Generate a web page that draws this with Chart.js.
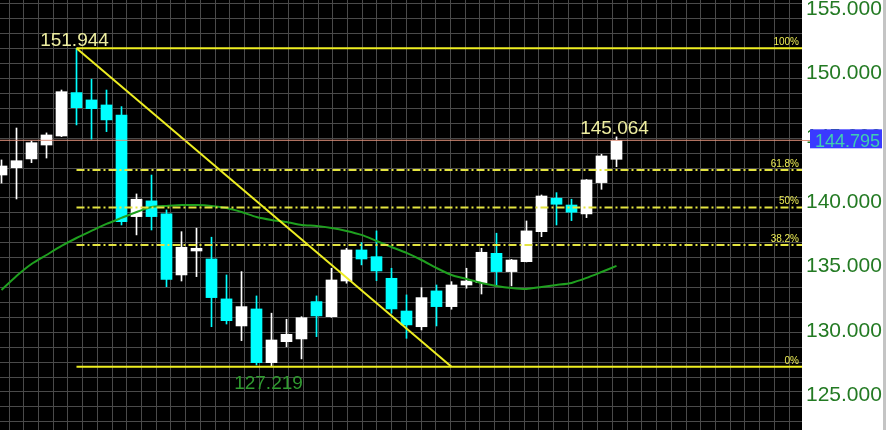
<!DOCTYPE html>
<html>
<head>
<meta charset="utf-8">
<script src="https://cdn.jsdelivr.net/npm/chart.js@4.4.0/dist/chart.umd.min.js"></script>
<style>
  html, body { margin: 0; padding: 0; background: #fff; }
  canvas { display: block; }
</style>
</head>
<body>
<canvas id="chart" width="891" height="430"></canvas>
<script>
// Velas (índice 0 = la más antigua visible)
const opens  = [142.10, 142.67, 143.35, 144.43, 145.13, 148.50, 147.93, 147.54, 146.76, 138.87,
                140.09, 139.08, 134.34, 136.20, 135.58, 132.48, 130.38, 131.70, 127.53, 129.16,
                129.37, 132.27, 131.10, 133.87, 136.28, 135.76, 134.08, 131.54, 130.32, 133.10,
                131.88, 133.56, 133.74, 136.02, 134.60, 135.37, 137.70, 140.30, 139.77, 139.08,
                141.51, 143.32];
const highs  = [143.27, 145.75, 144.74, 145.37, 148.70, 151.944, 149.54, 148.70, 147.41, 140.63,
                142.10, 139.39, 137.70, 137.97, 137.27, 134.34, 134.60, 132.71, 131.37, 130.90,
                131.10, 132.71, 134.86, 136.41, 136.85, 137.76, 134.86, 132.79, 133.35, 133.56,
                133.82, 134.86, 136.41, 137.58, 135.55, 138.53, 140.55, 140.73, 140.22, 141.75,
                143.71, 145.064];
const lows   = [141.48, 140.24, 143.06, 143.42, 145.08, 145.99, 144.88, 145.47, 138.22, 137.45,
                137.83, 133.43, 133.87, 134.21, 130.32, 130.53, 129.24, 127.35, 127.219, 128.77,
                127.82, 129.55, 131.05, 133.70, 135.12, 133.90, 131.37, 129.42, 130.07, 130.38,
                131.68, 133.31, 132.86, 133.43, 133.49, 135.35, 137.31, 138.22, 138.56, 138.79,
                140.99, 142.75];
const closes = [142.80, 143.21, 144.61, 145.21, 148.57, 147.33, 147.25, 146.38, 138.48, 140.22,
                138.87, 133.99, 136.49, 136.41, 132.58, 130.79, 131.88, 127.53, 129.29, 129.73,
                131.02, 131.16, 133.95, 136.28, 135.58, 134.65, 131.70, 130.46, 132.58, 131.88,
                133.56, 133.87, 136.10, 134.60, 135.50, 137.76, 140.47, 139.83, 139.21, 141.72,
                143.58, 144.795];

// Media móvil
const maValues = [133.17, 134.26, 135.19, 135.89, 136.59, 137.21, 137.76, 138.30, 138.77, 139.23,
                  139.62, 139.70, 139.77, 139.77, 139.70, 139.54, 139.23, 138.84, 138.61, 138.45,
                  138.22, 138.14, 137.99, 137.76, 137.45, 136.98, 136.51, 136.05, 135.50, 134.88,
                  134.34, 134.03, 133.72, 133.49, 133.33, 133.25, 133.41, 133.56, 133.72, 134.11,
                  134.57, 135.04];

// Fibonacci y línea de tendencia
const fibLevels = [151.944, 142.499, 139.582, 136.664, 127.219];
const fibLabels = ['100%', '61.8%', '50%', '38.2%', '0%'];
const fibDashed = [false, true, true, true, false];
const fibStart = 5;
const trendIdx = [5, 30];
const trendPrices = [151.944, 127.219];

const swingHighIdx = 5;
const swingLowIdx = 18;
const lastIdx = 41;
const lastPrice = 144.795;

const yTicks = [125, 130, 135, 140, 145, 150, 155];

const X_MIN = -0.1, X_MAX = 53.3667;

const idx = opens.map((_, i) => i);
const candleColor = idx.map(i => closes[i] >= opens[i] ? '#ffffff' : '#00ffff');

const datasets = [
  { type: 'line', order: 0, data: [{ x: X_MIN, y: lastPrice }, { x: X_MAX, y: lastPrice }],
    borderColor: '#e0907a', borderWidth: 1, pointRadius: 0 },
  { type: 'line', order: 1, data: trendIdx.map((v, k) => ({ x: v, y: trendPrices[k] })),
    borderColor: '#eeee22', borderWidth: 2, pointRadius: 0 }
];

fibLevels.forEach((lv, k) => {
  datasets.push({
    type: 'line', order: 2,
    data: [{ x: fibStart, y: lv }, { x: X_MAX, y: lv }],
    borderColor: fibDashed[k] ? '#e4e440' : '#eeee22',
    borderWidth: 2,
    borderDash: fibDashed[k] ? [8, 3, 2, 3] : [],
    pointRadius: 0
  });
});

datasets.push({
  type: 'line', order: 3,
  data: idx.map(i => ({ x: i, y: maValues[i] })),
  borderColor: '#1fa01f', borderWidth: 2, pointRadius: 0, tension: 0.2
});

// cuerpos
datasets.push({
  type: 'bar', order: 4, grouped: false, barThickness: 11,
  data: idx.map(i => ({ x: i, y: [opens[i], closes[i]] })),
  backgroundColor: candleColor, borderWidth: 0
});
// mechas
datasets.push({
  type: 'bar', order: 5, grouped: false, barThickness: 1,
  data: idx.map(i => ({ x: i, y: [lows[i], highs[i]] })),
  backgroundColor: candleColor, borderWidth: 0
});

const bgPlugin = {
  id: 'bg',
  beforeDraw(chart) {
    const { ctx, chartArea: a } = chart;
    ctx.save();
    ctx.fillStyle = '#fff';
    ctx.fillRect(0, 0, chart.width, chart.height);
    ctx.fillStyle = '#000';
    ctx.fillRect(a.left, a.top, a.right - a.left, a.bottom - a.top);
    ctx.fillStyle = '#c4c4c4';
    ctx.fillRect(883, 0, 3, chart.height);
    ctx.restore();
  }
};

const labelPlugin = {
  id: 'labels',
  afterDraw(chart) {
    const { ctx, chartArea: a, scales: { x, y } } = chart;
    ctx.save();

    // etiquetas fibo
    ctx.font = '10px "Liberation Sans Narrow", "Liberation Sans", sans-serif';
    ctx.fillStyle = '#eeee55';
    ctx.textAlign = 'right';
    ctx.textBaseline = 'alphabetic';
    fibLevels.forEach((lv, k) => {
      ctx.fillText(fibLabels[k], a.right - 3, y.getPixelForValue(lv) - 3);
    });

    // máximos y mínimos
    ctx.font = '19px "Liberation Sans", sans-serif';
    ctx.textAlign = 'center';
    ctx.fillStyle = '#eeeea0';
    ctx.fillText(highs[swingHighIdx].toFixed(3), x.getPixelForValue(swingHighIdx) - 2, y.getPixelForValue(highs[swingHighIdx]) - 2);
    ctx.fillText(highs[lastIdx].toFixed(3), x.getPixelForValue(lastIdx) - 2, y.getPixelForValue(highs[lastIdx]) - 3);
    ctx.fillStyle = '#2f9a2f';
    ctx.fillText(lows[swingLowIdx].toFixed(3), x.getPixelForValue(swingLowIdx) - 3, y.getPixelForValue(lows[swingLowIdx]) + 22);

    // precio actual
    const py = y.getPixelForValue(lastPrice);
    ctx.fillStyle = '#e0907a';
    ctx.fillRect(a.right, Math.round(py), 8, 1);
    ctx.fillStyle = '#3a3aff';
    ctx.fillRect(a.right + 8, py - 11, 72, 19);
    ctx.font = '18px "Liberation Sans", sans-serif';
    ctx.textAlign = 'left';
    ctx.fillStyle = '#3fd0b0';
    ctx.fillText(lastPrice.toFixed(3), a.right + 13, py + 6.5);
    ctx.restore();
  }
};

new Chart(document.getElementById('chart'), {
  type: 'bar',
  data: { datasets },
  options: {
    responsive: false,
    animation: false,
    events: [],
    layout: { padding: 0 },
    plugins: { legend: { display: false }, tooltip: { enabled: false } },
    scales: {
      x: {
        type: 'linear', display: false, min: X_MIN, max: X_MAX, offset: false
      },
      y: {
        type: 'linear', position: 'right', min: 122.30, max: 155.69, beginAtZero: false,
        grid: { display: false, drawTicks: false },
        border: { display: false },
        afterBuildTicks: s => { s.ticks = yTicks.map(v => ({ value: v })); },
        afterFit: s => { s.width = 89; s.paddingTop = 0; s.paddingBottom = 0; },
        ticks: {
          color: '#237a23',
          padding: 4,
          font: { family: '"Liberation Sans", Arial, sans-serif', size: 21 },
          callback: v => Number(v).toFixed(3)
        }
      },
      // rejilla
      gx: {
        type: 'linear', position: 'bottom', min: 0.4, max: 53.8667,
        grid: { color: '#4a4a4a', drawTicks: false },
        border: { display: false },
        ticks: { display: false, stepSize: 1, includeBounds: false },
        afterFit: s => { s.height = 0; }
      },
      gy: {
        type: 'linear', position: 'left', reverse: true, min: -0.268, max: 28.552,
        grid: { color: '#4a4a4a', drawTicks: false },
        border: { display: false },
        ticks: { display: false, stepSize: 1, includeBounds: false },
        afterFit: s => { s.width = 0; }
      }
    }
  },
  plugins: [bgPlugin, labelPlugin]
});
</script>
</body>
</html>
